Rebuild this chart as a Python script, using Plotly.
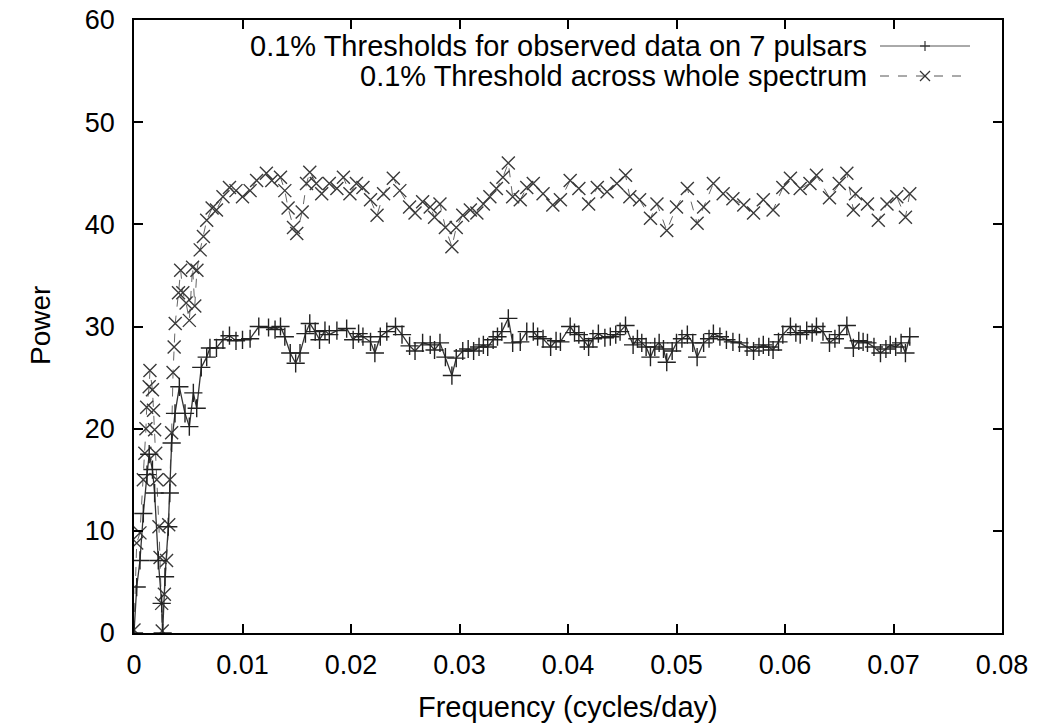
import plotly.graph_objects as go

# ---- data ----
freq_obs = [0.0, 0.00025, 0.00055, 0.00086, 0.0012, 0.0014, 0.0017, 0.0019, 0.00224, 0.00255,
            0.00264, 0.00286, 0.00316, 0.0033, 0.00347, 0.00378, 0.00418, 0.0047, 0.0051, 0.00547,
            0.00578, 0.0062, 0.0067, 0.007, 0.0076, 0.0082, 0.0088, 0.0094, 0.0100, 0.0107,
            0.0115, 0.0124, 0.0130, 0.0135, 0.0139, 0.0144, 0.0149, 0.0153, 0.0158, 0.0162,
            0.0167, 0.0171, 0.0176, 0.0180, 0.0187, 0.0196, 0.0202, 0.0207, 0.0211, 0.0218,
            0.0222, 0.0227, 0.0233, 0.0241, 0.0247, 0.0254, 0.0259, 0.0266, 0.0273, 0.0277,
            0.0282, 0.0287, 0.0293, 0.0297, 0.0303, 0.0308, 0.0313, 0.0318, 0.0322, 0.0326,
            0.0331, 0.0335, 0.0339, 0.0345, 0.0349, 0.0356, 0.0362, 0.0368, 0.0372, 0.0377,
            0.0384, 0.0389, 0.0393, 0.0402, 0.0406, 0.0410, 0.0415, 0.0419, 0.0423, 0.0428,
            0.0434, 0.0439, 0.0444, 0.0448, 0.0453, 0.0460, 0.0464, 0.0468, 0.0472, 0.0476,
            0.0480, 0.0484, 0.0488, 0.0491, 0.0496, 0.0500, 0.0505, 0.0510, 0.0515, 0.0519,
            0.0525, 0.0530, 0.0534, 0.0540, 0.0546, 0.0552, 0.0558, 0.0565, 0.0571, 0.0576,
            0.0580, 0.0585, 0.0589, 0.0594, 0.0598, 0.0605, 0.0610, 0.0614, 0.0620, 0.0625,
            0.0629, 0.0635, 0.0641, 0.0646, 0.0650, 0.0657, 0.0663, 0.0668, 0.0672, 0.0676,
            0.0682, 0.0688, 0.0693, 0.0697, 0.0702, 0.0707, 0.0711, 0.0715]
power_obs = [0.0, 4.5, 7.1, 11.7, 15.5, 17.5, 16.0, 13.7, 7.1, 2.9,
             0.0, 5.5, 10.4, 13.7, 18.6, 21.5, 24.1, 21.5, 20.2, 23.5,
             22.0, 26.0, 27.0, 27.9, 27.9, 28.7, 29.1, 28.6, 28.7, 28.8,
             30.0, 29.9, 29.7, 30.0, 29.0, 27.4, 26.4, 27.4, 29.3, 30.3,
             29.5, 28.7, 29.6, 29.2, 29.6, 29.8, 28.7, 29.3, 29.0, 28.5,
             27.4, 29.0, 29.5, 30.0, 29.2, 28.1, 27.6, 28.4, 28.2, 27.7,
             28.4, 27.0, 25.2, 26.9, 27.6, 27.8, 27.6, 28.0, 28.2, 28.0,
             28.7, 29.0, 29.5, 30.8, 28.4, 28.5, 29.5, 29.5, 29.0, 28.8,
             28.0, 28.6, 28.5, 30.0, 29.4, 29.2, 28.6, 28.0, 28.8, 29.3,
             28.9, 29.0, 29.2, 29.5, 30.1, 28.2, 28.8, 28.4, 28.0, 27.0,
             28.0, 28.4, 27.8, 26.5, 27.6, 28.4, 28.8, 29.2, 28.4, 27.0,
             28.4, 28.8, 29.3, 29.0, 28.7, 28.5, 28.4, 28.0, 27.6, 28.0,
             28.2, 28.0, 27.7, 28.5, 29.2, 30.0, 29.4, 29.2, 29.6, 29.4,
             30.0, 29.5, 28.4, 28.8, 29.2, 30.1, 27.9, 28.6, 28.5, 28.4,
             28.0, 27.4, 27.8, 28.2, 28.0, 28.4, 27.4, 29.0]

freq_all = [0.0, 0.00025, 0.00055, 0.00086, 0.0010, 0.0011, 0.00117, 0.0014, 0.00147, 0.0017,
            0.0018, 0.0019, 0.0020, 0.0021, 0.0023, 0.0024, 0.00255, 0.0026, 0.0028, 0.0030,
            0.0032, 0.0033, 0.00347, 0.0036, 0.0037, 0.0038, 0.0041, 0.0043, 0.0045, 0.0048,
            0.0051, 0.0054, 0.0056, 0.0058, 0.0061, 0.0064, 0.0067, 0.0072, 0.0076, 0.0082,
            0.0088, 0.0094, 0.0100, 0.0107, 0.0113, 0.0122, 0.0127, 0.0135, 0.0139, 0.0142,
            0.0147, 0.0150, 0.0155, 0.0159, 0.0162, 0.0168, 0.0173, 0.0180, 0.0187, 0.0193,
            0.0199, 0.0205, 0.0211, 0.0218, 0.0224, 0.0230, 0.0239, 0.0245, 0.0254, 0.0259,
            0.0266, 0.0273, 0.0277, 0.0282, 0.0287, 0.0293, 0.0297, 0.0303, 0.0310, 0.0316,
            0.0322, 0.0328, 0.0334, 0.0340, 0.0345, 0.0349, 0.0356, 0.0362, 0.0368, 0.0377,
            0.0386, 0.0393, 0.0402, 0.0410, 0.0419, 0.0427, 0.0436, 0.0445, 0.0453, 0.0457,
            0.0466, 0.0476, 0.0482, 0.0491, 0.0500, 0.0510, 0.0519, 0.0525, 0.0534, 0.0543,
            0.0552, 0.0562, 0.0571, 0.0580, 0.0589, 0.0598, 0.0605, 0.0614, 0.0623, 0.0629,
            0.0641, 0.0650, 0.0657, 0.0663, 0.0665, 0.0676, 0.0686, 0.0694, 0.0703, 0.0711,
            0.0715]
power_all = [0.3, 8.8, 9.8, 15.0, 17.6, 20.0, 22.1, 24.1, 25.7, 23.8,
             21.8, 19.9, 17.6, 15.0, 10.4, 7.4, 2.9, 0.2, 3.8, 7.1,
             10.6, 15.0, 19.6, 25.5, 28.0, 30.3, 33.3, 35.5, 33.3, 32.3,
             30.6, 35.8, 32.0, 35.5, 37.5, 38.8, 40.4, 41.6, 41.4, 42.7,
             43.6, 43.3, 42.7, 43.3, 44.3, 45.0, 44.3, 44.6, 43.3, 41.6,
             39.7, 39.1, 41.2, 44.0, 45.1, 44.0, 43.0, 44.0, 43.5, 44.6,
             43.0, 44.0, 43.6, 42.4, 40.9, 43.0, 44.5, 43.3, 41.7, 41.1,
             42.2, 41.7, 40.7, 42.0, 39.7, 37.8, 39.7, 40.9, 41.4, 41.1,
             42.0, 42.7, 43.5, 44.6, 46.0, 42.7, 42.4, 43.6, 44.0, 43.0,
             41.9, 42.4, 44.3, 43.5, 42.0, 43.6, 43.2, 44.0, 44.8, 42.7,
             42.4, 40.6, 42.0, 39.4, 41.7, 43.5, 40.1, 41.7, 44.0, 43.0,
             42.5, 41.9, 41.1, 42.4, 41.4, 43.6, 44.5, 43.5, 44.0, 44.8,
             42.6, 44.0, 45.0, 41.4, 43.0, 42.0, 40.4, 42.0, 42.7, 40.7,
             43.0]

name_obs = "0.1% Thresholds for observed data on 7 pulsars"
name_all = "0.1% Threshold across whole spectrum"

FONT = "Liberation Sans, Arial, Helvetica, sans-serif"

fig = go.Figure()
fig.add_trace(go.Scatter(
    x=freq_all, y=power_all, mode="lines+markers", name=name_all,
    line=dict(color="#666666", width=1, dash="dash"),
    marker=dict(symbol="x-thin", size=13, color="#3a3a3a",
                line=dict(width=1.4, color="#3a3a3a")),
    showlegend=False))
fig.add_trace(go.Scatter(
    x=freq_obs, y=power_obs, mode="lines+markers", name=name_obs,
    line=dict(color="#333333", width=1.3),
    marker=dict(symbol="cross-thin", size=13, color="#222222",
                line=dict(width=1.4, color="#222222")),
    showlegend=False))

# plot area in pixels: x 134..1002, y 20..633
L, R, T, B = 134, 1002, 20, 633
W, H = R - L, B - T
def px(x): return (x - L) / W
def py(y): return (B - y) / H

shapes = []
annotations = []
legend_rows = [(name_obs, 46, "solid", "+"), (name_all, 76, "dash", "x")]
for text, yy, dash, mk in legend_rows:
    annotations.append(dict(x=px(869), y=py(yy), xref="paper", yref="paper",
                            text=text, showarrow=False, xanchor="right", yanchor="middle",
                            font=dict(family=FONT, size=29, color="black")))
    shapes.append(dict(type="line", xref="paper", yref="paper",
                       x0=px(880), x1=px(970), y0=py(yy), y1=py(yy),
                       line=dict(color="#555555", width=1, dash=dash)))
    cx, cy, s = 925, yy, 5
    if mk == "+":
        shapes.append(dict(type="line", xref="paper", yref="paper",
                           x0=px(cx - s), x1=px(cx + s), y0=py(cy), y1=py(cy),
                           line=dict(color="#333333", width=1.2)))
        shapes.append(dict(type="line", xref="paper", yref="paper",
                           x0=px(cx), x1=px(cx), y0=py(cy - s), y1=py(cy + s),
                           line=dict(color="#333333", width=1.2)))
    else:
        shapes.append(dict(type="line", xref="paper", yref="paper",
                           x0=px(cx - s), x1=px(cx + s), y0=py(cy - s), y1=py(cy + s),
                           line=dict(color="#333333", width=1.2)))
        shapes.append(dict(type="line", xref="paper", yref="paper",
                           x0=px(cx - s), x1=px(cx + s), y0=py(cy + s), y1=py(cy - s),
                           line=dict(color="#333333", width=1.2)))

# axis titles placed as annotations (fixed positions like the reference)
annotations.append(dict(x=px(568), y=py(707), xref="paper", yref="paper",
                        text="Frequency (cycles/day)", showarrow=False,
                        xanchor="center", yanchor="middle",
                        font=dict(family=FONT, size=29, color="black")))
annotations.append(dict(x=px(40), y=py(326), xref="paper", yref="paper",
                        text="Power", showarrow=False, textangle=-90,
                        xanchor="center", yanchor="middle",
                        font=dict(family=FONT, size=28, color="black")))

axis_common = dict(showline=True, linecolor="black", linewidth=1.5, mirror="ticks",
                   ticks="inside", ticklen=9, tickwidth=1.5, tickcolor="black",
                   showgrid=False, zeroline=False, automargin=False,
                   tickfont=dict(family=FONT, size=27, color="black"))

fig.update_layout(
    width=1050, height=723,
    margin=dict(l=L, r=1050 - R, t=T, b=723 - B),
    paper_bgcolor="white", plot_bgcolor="white",
    font=dict(family=FONT, size=27, color="black"),
    xaxis=dict(range=[0, 0.08], dtick=0.01, tick0=0,
               ticklabelstandoff=7, **axis_common),
    yaxis=dict(range=[0, 60], dtick=10, tick0=0,
               ticklabelstandoff=12, **axis_common),
    shapes=shapes, annotations=annotations,
)

fig.write_html("out.html")
